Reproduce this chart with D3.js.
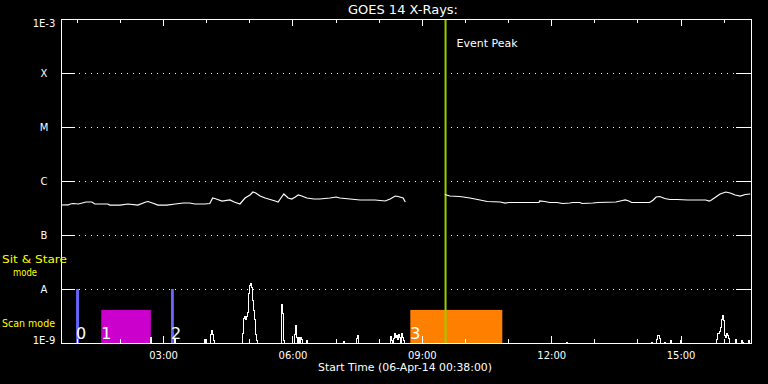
<!DOCTYPE html>
<meta charset="utf-8">
<style>
body { margin: 0; background: #000; }
svg { display: block; background: #000; }
text { font-family: "DejaVu Sans", sans-serif; fill: #fff; }
.axis line { stroke: #fff; shape-rendering: crispEdges; }
.grid line { stroke: #fff; stroke-dasharray: 1,5; shape-rendering: crispEdges; }
.frame { fill: none; stroke: #fff; shape-rendering: crispEdges; }
.label-y { fill: #ffff00; }
</style>
<svg width="768" height="384"></svg>
<script src="https://d3js.org/d3.v7.min.js"></script>
<script>

// --- data ---
var title = "GOES 14 X-Rays:";
var startLabel = "Start Time (06-Apr-14 00:38:00)";
var timeStart = "00:38", timeEnd = "16:38";

var levelValues = [1e-9, 1e-8, 1e-7, 1e-6, 1e-5, 1e-4, 1e-3];
var levelLabels = ["1E-9", "A", "B", "C", "M", "X", "1E-3"];

// long channel (1-8 A), null = data gap
var longTimes = ["00:38","00:48","00:51","00:55","01:02","01:13","01:21","01:25","01:43","01:46",
  "02:00","02:11","02:25","02:36","02:39","02:45","02:53","03:05","03:17","03:28",
  "03:37","03:44","03:58","04:05","04:09","04:14","04:22","04:33","04:39","04:47",
  "04:54","05:01","05:05","05:09","05:15","05:22","05:29","05:36","05:40","05:44",
  "05:48","05:54","05:59","06:04","06:08","06:13","06:20","06:30","06:38","06:52",
  "07:01","07:06","07:20","07:34","07:55","08:09","08:16","08:23","08:27","08:34",
  "08:37","09:00","09:32","09:39","09:53","10:07","10:21","10:31","10:49","10:56",
  "11:01","11:17","11:43","11:44","11:51","11:58","12:08","12:16","12:26","12:30",
  "12:40","12:43","12:58","13:05","13:30","13:36","13:43","13:48","13:52","14:17",
  "14:22","14:26","14:31","14:38","14:45","14:55","15:10","15:35","15:40","15:42",
  "15:49","15:55","16:03","16:09","16:16","16:23","16:30","16:37"];
var longFlux = [3.59e-7,3.6e-7,3.75e-7,3.83e-7,3.75e-7,4.08e-7,4.08e-7,3.75e-7,3.75e-7,3.59e-7,
  3.59e-7,3.75e-7,3.59e-7,4.08e-7,4.17e-7,3.91e-7,3.59e-7,3.59e-7,3.75e-7,3.91e-7,
  3.91e-7,3.75e-7,3.75e-7,3.83e-7,4.84e-7,4.64e-7,4.26e-7,4.45e-7,4.08e-7,3.75e-7,
  4.84e-7,5.5e-7,6.25e-7,6.0e-7,5.27e-7,4.84e-7,4.54e-7,4.26e-7,4.08e-7,4.84e-7,
  5.74e-7,4.84e-7,4.64e-7,5.05e-7,5.5e-7,5.27e-7,4.84e-7,4.64e-7,4.64e-7,4.84e-7,
  5.05e-7,4.84e-7,4.64e-7,4.45e-7,4.45e-7,4.26e-7,4.64e-7,5.27e-7,5.16e-7,4.84e-7,
  4.08e-7,null,5.62e-7,5.27e-7,5.16e-7,4.84e-7,4.45e-7,4.17e-7,4.08e-7,3.91e-7,
  4.0e-7,4.0e-7,4.0e-7,4.26e-7,4.17e-7,4.0e-7,4.0e-7,3.83e-7,3.91e-7,4.0e-7,
  4.0e-7,3.83e-7,3.91e-7,4.0e-7,4.08e-7,4.26e-7,4.45e-7,4.26e-7,4.0e-7,4.0e-7,
  4.45e-7,5.05e-7,5.16e-7,4.74e-7,4.54e-7,4.54e-7,4.45e-7,4.45e-7,4.26e-7,4.35e-7,
  5.05e-7,5.74e-7,6.25e-7,6.0e-7,5.5e-7,5.27e-7,5.62e-7,5.74e-7];

// short channel (0.5-4 A), sits on the 1E-9 floor most of the day
var shortTimes = ["00:38","02:42","02:43","02:44","03:16","03:17","03:18","03:57","03:58","03:59",
  "04:06","04:07","04:08","04:09","04:11","04:12",
  "04:50","04:51","04:53","04:54","04:55","04:57","04:58","05:00","05:01","05:02",
  "05:04","05:05","05:07","05:08","05:09","05:11","05:12",
  "05:44","05:45","05:47","05:48","05:49",
  "06:03","06:04","06:05","06:06","06:07","06:09","06:10","06:12","06:13","06:14",
  "06:19","06:20","06:21","07:11","07:12","07:13","07:29","07:30","07:31","07:32",
  "08:16","08:17","08:18","08:20","08:21","08:23","08:24","08:25","08:27","08:28",
  "08:30","08:31","08:32","08:34","08:35","08:36","09:00","09:32",
  "12:21","12:22","12:23",
  "14:19","14:20","14:21","14:26","14:27","14:30","14:31","14:32","14:37","14:38",
  "14:39","14:46","14:47","14:48","15:00","15:01","15:02",
  "15:50","15:51","15:52","15:55","15:56","15:58","15:59","16:01","16:02","16:03",
  "16:05","16:06","16:08","16:09","16:16","16:17","16:18","16:24","16:25","16:27",
  "16:28","16:34","16:35","16:36","16:37"];
var shortFlux = [1e-9,1e-9,1.24e-9,1e-9,1e-9,1.14e-9,1e-9,1e-9,1.14e-9,1e-9,
  1e-9,1.41e-9,1.74e-9,1.41e-9,1.09e-9,1e-9,
  1e-9,1.47e-9,2.9e-9,3.16e-9,2.67e-9,3.16e-9,3.75e-9,8.1e-9,1.14e-8,1.24e-8,
  1.05e-8,6.25e-9,4.08e-9,2.67e-9,1.41e-9,1.09e-9,1e-9,
  1e-9,5.27e-9,3.59e-9,1.09e-9,1e-9,
  1e-9,1.41e-9,2.15e-9,1.29e-9,1e-9,1.24e-9,1e-9,1.29e-9,1.14e-9,1e-9,
  1e-9,1.09e-9,1e-9,1e-9,1.07e-9,1e-9,1e-9,1.19e-9,1.35e-9,1e-9,
  1e-9,1.31e-9,1.09e-9,1e-9,1.19e-9,1.47e-9,1.24e-9,1.35e-9,1.14e-9,1.41e-9,
  1.24e-9,1e-9,1.53e-9,1.29e-9,1.09e-9,1e-9,null,1e-9,
  1e-9,1.03e-9,1e-9,
  1e-9,1.04e-9,1e-9,1e-9,1.17e-9,1.35e-9,1.19e-9,1e-9,1e-9,1.04e-9,
  1e-9,1e-9,1.09e-9,1e-9,1e-9,1.1e-9,1e-9,
  1e-9,1.14e-9,1.47e-9,1.62e-9,1.9e-9,2.78e-9,3.3e-9,2.6e-9,1.35e-9,1.29e-9,
  1.53e-9,1.37e-9,1.2e-9,1e-9,1e-9,1.14e-9,1e-9,1e-9,1.09e-9,1.04e-9,
  1e-9,1e-9,1.09e-9,1e-9,1e-9];

// observing mode intervals
var modeLabels = ["0", "1", "2", "3"];
var modeStarts = ["00:59", "01:34", "03:11", "08:44"];
var modeEnds   = ["01:03", "02:43", "03:15", "10:52"];
var modeTypes  = ["sit", "scan", "sit", "scan"];
var modeColors = ["#6666ff", "#cc00cc", "#6666ff", "#ff8000"];
var modeTop = { sit: 1e-8, scan: 4.1e-9 };

var peakTime = "09:33";

// --- setup ---
var parse = d3.utcParse("%H:%M");

var svg = d3.select("svg"),
    margin = {top: 19, right: 17, bottom: 41, left: 61},
    width = svg.attr("width") - margin.left - margin.right,
    height = svg.attr("height") - margin.top - margin.bottom;

var x = d3.scaleUtc()
    .domain([parse(timeStart), parse(timeEnd)])
    .range([0, width]);

var y = d3.scaleLog()
    .domain([1e-9, 1e-3])
    .range([height, 0])
    .clamp(true);

var g = svg.append("g")
    .attr("transform", "translate(" + margin.left + "," + margin.top + ")");

function fit(sel, w) {
  sel.attr("textLength", w).attr("lengthAdjust", "spacingAndGlyphs");
}

// mode boxes
var modes = modeLabels.map(function(l, i) {
  return {label: l, t0: parse(modeStarts[i]), t1: parse(modeEnds[i]),
          type: modeTypes[i], color: modeColors[i]};
});

g.selectAll(".mode")
    .data(modes)
  .enter().append("rect")
    .attr("class", "mode")
    .attr("x", function(d) { return x(d.t0); })
    .attr("width", function(d) { return x(d.t1) - x(d.t0); })
    .attr("y", function(d) { return y(modeTop[d.type]); })
    .attr("height", function(d) { return height - y(modeTop[d.type]); })
    .attr("fill", function(d) { return d.color; });

// dotted level lines
g.append("g")
    .attr("class", "grid")
  .selectAll("line")
    .data(levelValues.slice(1, -1))
  .enter().append("line")
    .attr("x1", 18).attr("x2", width - 15)
    .attr("y1", function(d) { return Math.round(y(d)) + 0.5; })
    .attr("y2", function(d) { return Math.round(y(d)) + 0.5; });

// event peak marker
var px = x(parse(peakTime));
g.append("line")
    .attr("x1", px).attr("x2", px)
    .attr("y1", 0).attr("y2", height)
    .attr("stroke", "#99cc00")
    .attr("stroke-width", 2);

g.append("text")
    .attr("x", px + 11)
    .attr("y", 28)
    .attr("font-size", 11)
    .text("Event Peak");

// curves
var longData = longTimes.map(function(t, i) { return {t: parse(t), f: longFlux[i]}; });
var shortData = shortTimes.map(function(t, i) { return {t: parse(t), f: shortFlux[i]}; });

var lineLong = d3.line()
    .defined(function(d) { return d.f != null; })
    .x(function(d) { return x(d.t); })
    .y(function(d) { return y(d.f); });

var lineShort = d3.line()
    .defined(function(d) { return d.f != null; })
    .curve(d3.curveStep)
    .x(function(d) { return x(d.t); })
    .y(function(d) { return y(d.f); });

g.append("path")
    .datum(longData)
    .attr("fill", "none")
    .attr("stroke", "#fff")
    .attr("stroke-width", 1.2)
    .attr("d", lineLong);

g.append("path")
    .datum(shortData)
    .attr("fill", "none")
    .attr("stroke", "#fff")
    .attr("stroke-width", 1)
    .style("shape-rendering", "crispEdges")
    .attr("d", lineShort);

// axes
var fmt = d3.utcFormat("%H:%M");

var xAxis = g.append("g")
    .attr("class", "axis")
    .attr("transform", "translate(0," + height + ")")
    .call(d3.axisBottom(x).ticks(d3.utcHour.every(3)).tickSize(-7).tickPadding(9).tickFormat(fmt));
xAxis.select(".domain").remove();
xAxis.selectAll("text").attr("font-family", null).attr("font-size", 10).style("fill", "#fff");

g.append("g")
    .attr("class", "axis")
    .attr("transform", "translate(0," + height + ")")
    .call(d3.axisBottom(x).ticks(d3.utcHour.every(1)).tickSize(-4).tickFormat(""))
    .select(".domain").remove();

g.append("g")
    .attr("class", "axis")
    .call(d3.axisTop(x).ticks(d3.utcHour.every(3)).tickSize(-7).tickFormat(""))
    .select(".domain").remove();

g.append("g")
    .attr("class", "axis")
    .call(d3.axisTop(x).ticks(d3.utcHour.every(1)).tickSize(-4).tickFormat(""))
    .select(".domain").remove();

var yAxis = g.append("g")
    .attr("class", "axis")
    .call(d3.axisLeft(y).tickValues(levelValues).tickSize(-14)
      .tickFormat(function(d, i) { return levelLabels[i]; }));
yAxis.select(".domain").remove();
yAxis.selectAll("text")
    .attr("font-family", null)
    .attr("font-size", 10)
    .style("fill", "#fff")
    .attr("text-anchor", "middle")
    .attr("x", -17)
    .attr("dy", function(d, i) { return i === 0 ? "0em" : (i === levelValues.length - 1 ? "0.73em" : "0.36em"); });

g.append("g")
    .attr("class", "axis")
    .attr("transform", "translate(" + width + ",0)")
    .call(d3.axisRight(y).tickValues(levelValues).tickSize(-15).tickFormat(""))
    .select(".domain").remove();

g.append("rect")
    .attr("class", "frame")
    .attr("x", 0.5).attr("y", 0.5)
    .attr("width", width).attr("height", height);

// mode numbers
g.selectAll(".mode-label")
    .data(modes)
  .enter().append("text")
    .attr("class", "mode-label")
    .attr("x", function(d) { return x(d.t0); })
    .attr("y", height - 4)
    .attr("font-size", 16)
    .text(function(d) { return d.label; });

// titles
svg.append("text")
    .attr("x", 403).attr("y", 14)
    .attr("text-anchor", "middle")
    .attr("font-size", 12)
    .text(title)
    .call(fit, 110);

svg.append("text")
    .attr("x", 405).attr("y", 371)
    .attr("text-anchor", "middle")
    .attr("font-size", 11)
    .text(startLabel)
    .call(fit, 174);

// mode legend on the left
svg.append("text").attr("class", "label-y")
    .attr("x", 2).attr("y", 263).attr("font-size", 11)
    .text("Sit & Stare").call(fit, 65);
svg.append("text").attr("class", "label-y")
    .attr("x", 13).attr("y", 276).attr("font-size", 10)
    .text("mode").call(fit, 24);
svg.append("text").attr("class", "label-y")
    .attr("x", 2).attr("y", 327).attr("font-size", 11)
    .text("Scan mode").call(fit, 53);

</script>
